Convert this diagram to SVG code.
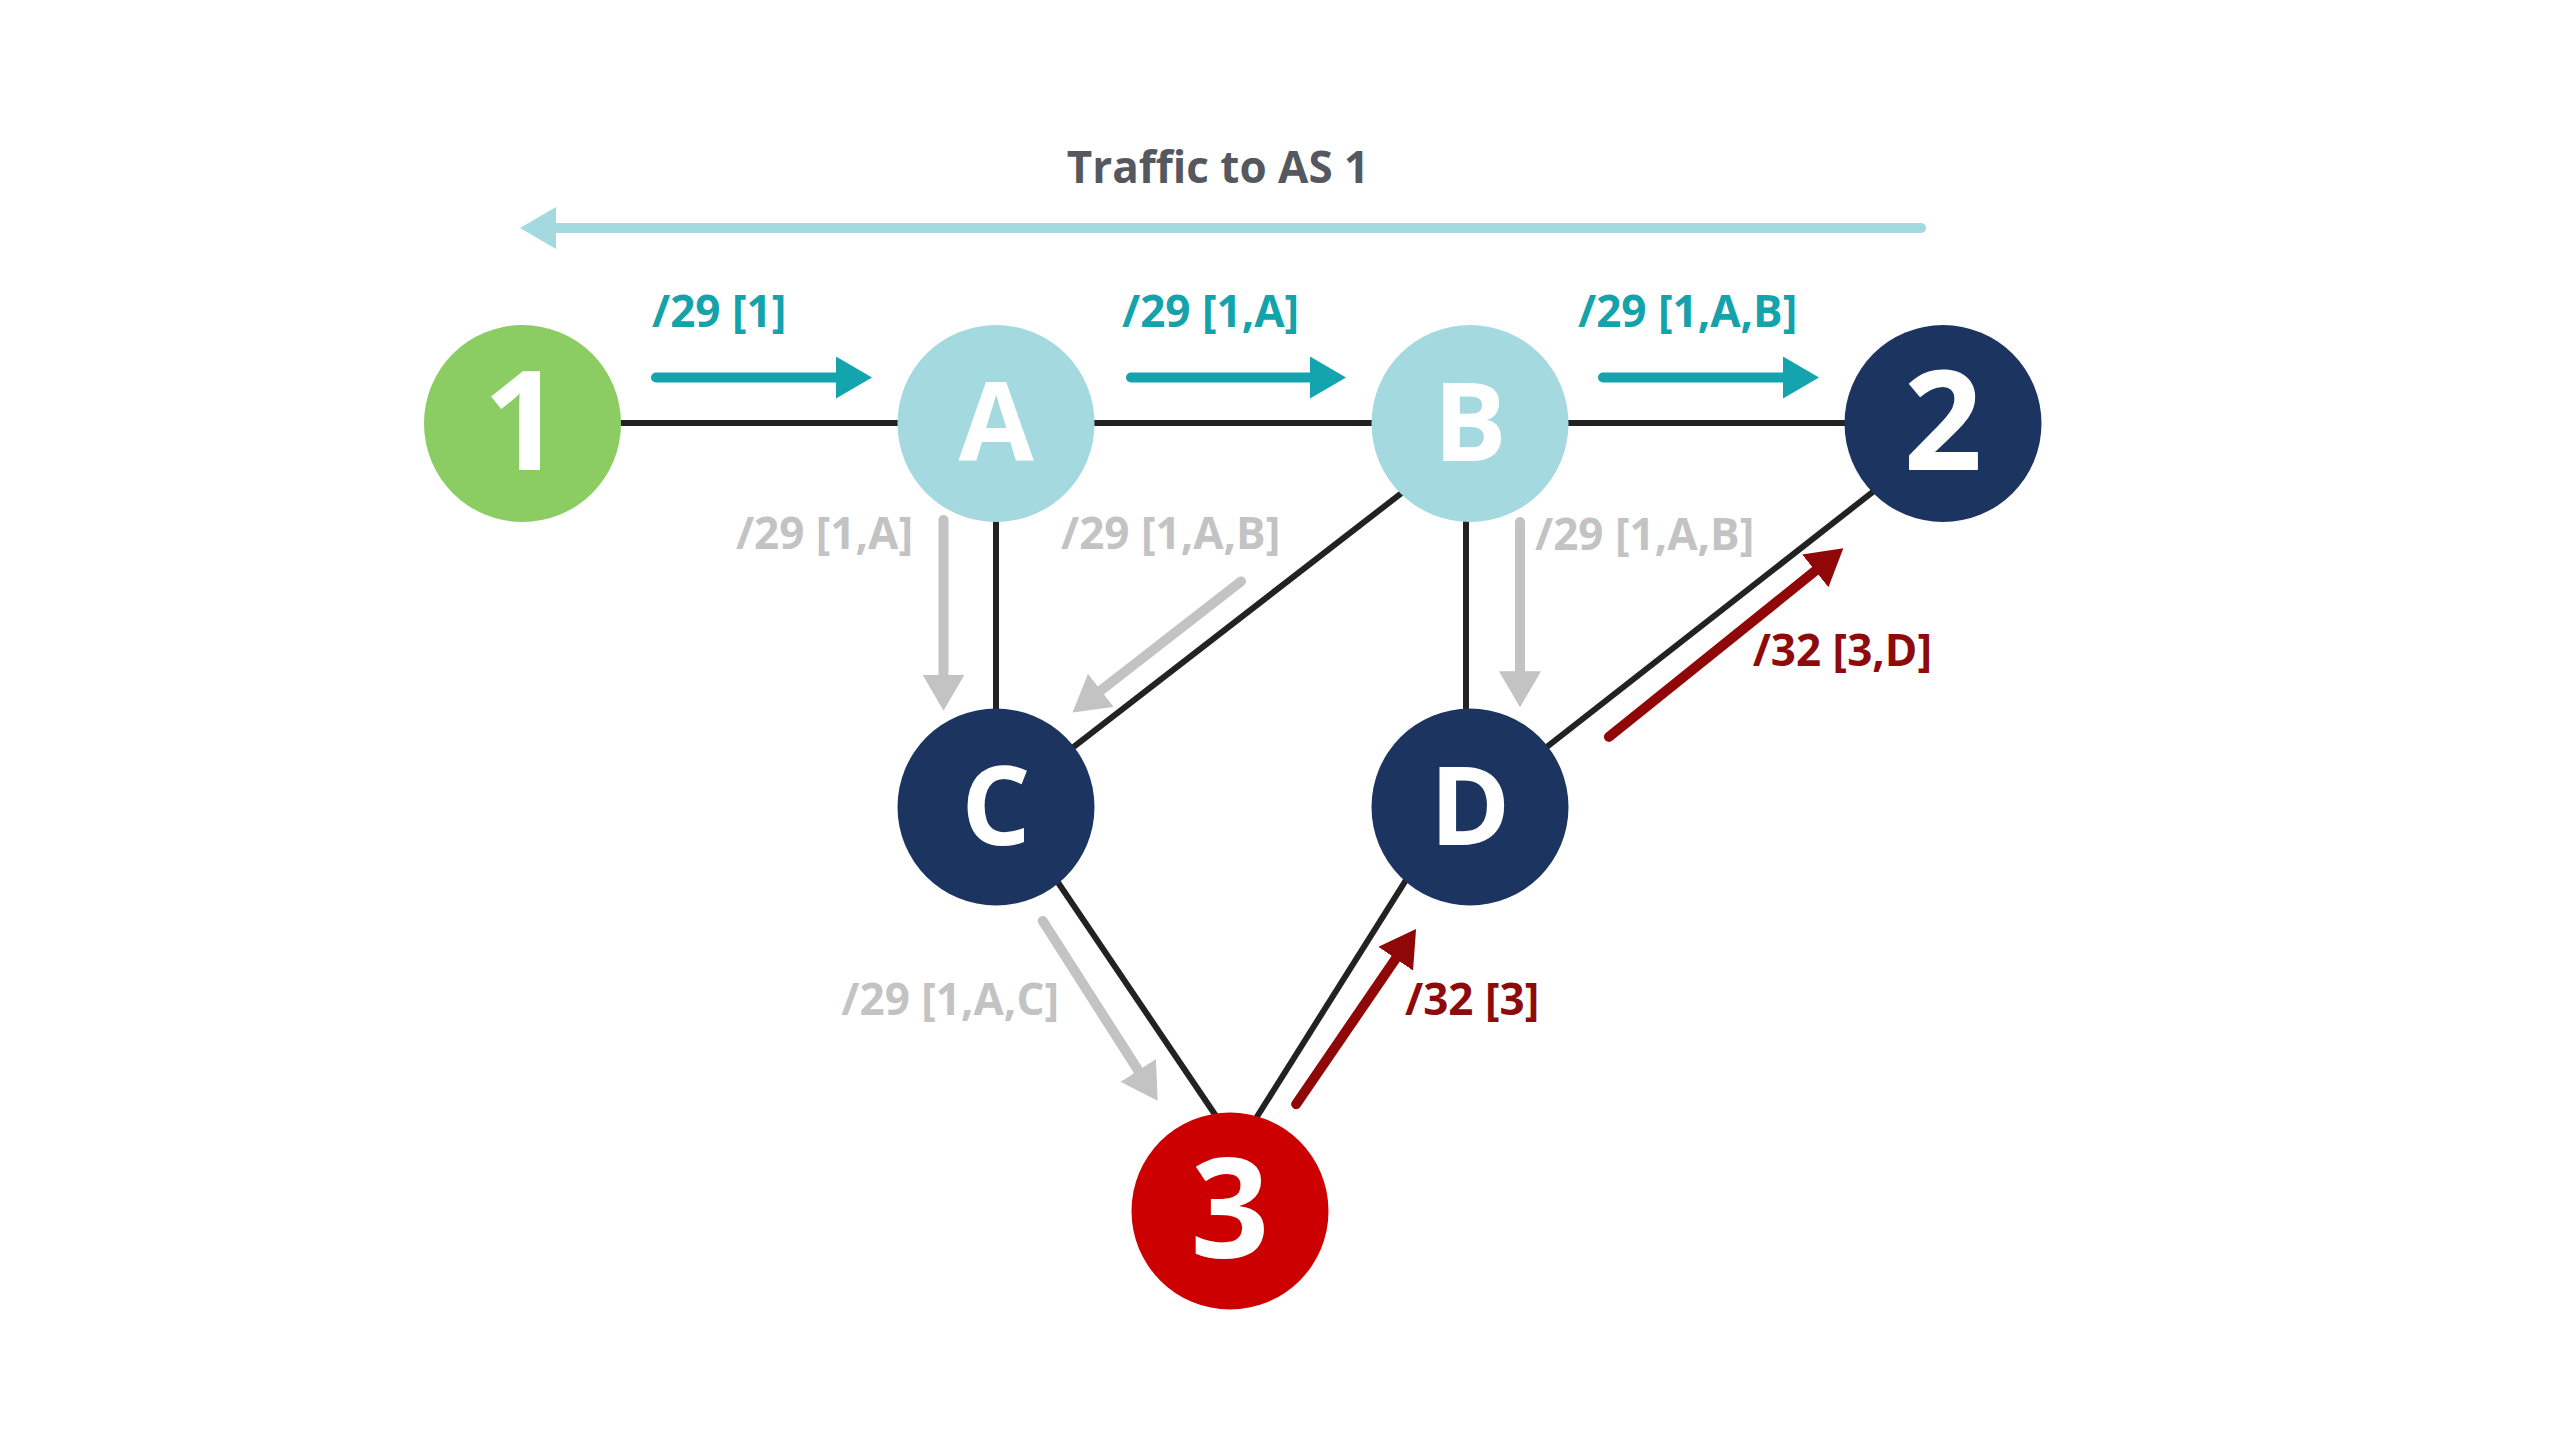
<svg xmlns="http://www.w3.org/2000/svg" width="2554" height="1430" viewBox="0 0 2554 1430">
  <style>
    .edge { stroke: #222222; stroke-width: 6; fill: none; }
    .arr { stroke-width: 10; stroke-linecap: round; fill: none; }
    .teal { stroke: #13a4ad; }
    .gray { stroke: #c3c3c3; }
    .red { stroke: #900707; }
    .light { stroke: #a3d9df; }
    .lbl { font-family: "Open Sans", "Noto Sans", "Liberation Sans", sans-serif; font-weight: 700; font-size: 44px; }
    .tl { fill: #14a2ab; }
    .gl { fill: #c3c3c3; }
    .rl { fill: #8e0b0b; }
    .title { fill: #55595f; }
    .nl { font-family: "Open Sans", "Noto Sans", "Liberation Sans", sans-serif; font-weight: 700; fill: #ffffff; text-anchor: middle; }
    .let { font-size: 109px; }
    .dig { font-size: 138px; }
  </style>
  <defs>
    <marker id="hTeal" markerUnits="userSpaceOnUse" viewBox="0 0 36 42" markerWidth="36" markerHeight="42" refX="9" refY="21" orient="auto">
      <path d="M0,0 L36,21 L0,42 Z" fill="#13a4ad"/>
    </marker>
    <marker id="hGray" markerUnits="userSpaceOnUse" viewBox="0 0 36 42" markerWidth="36" markerHeight="42" refX="9" refY="21" orient="auto">
      <path d="M0,0 L36,21 L0,42 Z" fill="#c3c3c3"/>
    </marker>
    <marker id="hRed" markerUnits="userSpaceOnUse" viewBox="0 0 36 42" markerWidth="36" markerHeight="42" refX="9" refY="21" orient="auto">
      <path d="M0,0 L36,21 L0,42 Z" fill="#900707"/>
    </marker>
    <marker id="hLight" markerUnits="userSpaceOnUse" viewBox="0 0 36 42" markerWidth="36" markerHeight="42" refX="9" refY="21" orient="auto">
      <path d="M0,0 L36,21 L0,42 Z" fill="#a3d9df"/>
    </marker>
  </defs>
  <rect width="2554" height="1430" fill="#ffffff"/>

  <g id="title">
    <text class="lbl title" x="1218" y="183" text-anchor="middle">Traffic to AS 1</text>
  </g>

  <g id="connectors">
    <line class="edge" x1="522" y1="423" x2="996" y2="423"/>
    <line class="edge" x1="996" y1="423" x2="1470" y2="423"/>
    <line class="edge" x1="1470" y1="423" x2="1943" y2="423"/>
    <line class="edge" x1="996" y1="424" x2="996" y2="807"/>
    <line class="edge" x1="1466" y1="424" x2="1466" y2="807"/>
    <line class="edge" x1="996" y1="807" x2="1483" y2="430"/>
    <line class="edge" x1="1470" y1="807" x2="1943" y2="437"/>
    <line class="edge" x1="1007" y1="807" x2="1239" y2="1150"/>
    <line class="edge" x1="1452" y1="807" x2="1236" y2="1150"/>

    <line class="arr light" x1="1921" y1="228" x2="547" y2="228" marker-end="url(#hLight)"/>

    <line class="arr teal" x1="656" y1="377.5" x2="845" y2="377.5" marker-end="url(#hTeal)"/>
    <line class="arr teal" x1="1131" y1="377.5" x2="1319" y2="377.5" marker-end="url(#hTeal)"/>
    <line class="arr teal" x1="1603" y1="377.5" x2="1792" y2="377.5" marker-end="url(#hTeal)"/>

    <line class="arr gray" x1="943.5" y1="520" x2="943.5" y2="683.7" marker-end="url(#hGray)"/>
    <line class="arr gray" x1="1520" y1="522" x2="1520" y2="680.3" marker-end="url(#hGray)"/>
    <line class="arr gray" x1="1241" y1="581.4" x2="1093.8" y2="695.9" marker-end="url(#hGray)"/>
    <line class="arr gray" x1="1042.7" y1="920.9" x2="1143.1" y2="1078" marker-end="url(#hGray)"/>

    <line class="arr red" x1="1296.1" y1="1104.2" x2="1400.8" y2="951.3" marker-end="url(#hRed)"/>
    <line class="arr red" x1="1608.9" y1="736.9" x2="1822.3" y2="565.2" marker-end="url(#hRed)"/>
  </g>

  <g id="labels">
    <text class="lbl tl" x="652" y="327">/29 [1]</text>
    <text class="lbl tl" x="1122" y="327">/29 [1,A]</text>
    <text class="lbl tl" x="1578" y="327">/29 [1,A,B]</text>
    <text class="lbl gl" x="913" y="549" text-anchor="end">/29 [1,A]</text>
    <text class="lbl gl" x="1061" y="549">/29 [1,A,B]</text>
    <text class="lbl gl" x="1535" y="550">/29 [1,A,B]</text>
    <text class="lbl gl" x="1059" y="1015" text-anchor="end">/29 [1,A,C]</text>
    <text class="lbl rl" x="1405" y="1015">/32 [3]</text>
    <text class="lbl rl" x="1932" y="666" text-anchor="end">/32 [3,D]</text>
  </g>

  <g id="node-1">
    <circle cx="522.5" cy="423.5" r="98.5" fill="#8bcc63"/>
    <text class="nl dig" x="522.5" y="470">1</text>
  </g>
  <g id="node-A">
    <circle cx="996" cy="423.5" r="98.5" fill="#a3d9df"/>
    <text class="nl let" x="996" y="461">A</text>
  </g>
  <g id="node-B">
    <circle cx="1470" cy="423.5" r="98.5" fill="#a3d9df"/>
    <text class="nl let" x="1470" y="461">B</text>
  </g>
  <g id="node-2">
    <circle cx="1943" cy="423.5" r="98.5" fill="#1c3560"/>
    <text class="nl dig" x="1943" y="470">2</text>
  </g>
  <g id="node-C">
    <circle cx="996" cy="807" r="98.5" fill="#1c3560"/>
    <text class="nl let" x="996" y="845">C</text>
  </g>
  <g id="node-D">
    <circle cx="1470" cy="807" r="98.5" fill="#1c3560"/>
    <text class="nl let" x="1470" y="845">D</text>
  </g>
  <g id="node-3">
    <circle cx="1230" cy="1211" r="98.5" fill="#cc0000"/>
    <text class="nl dig" x="1230" y="1258">3</text>
  </g>
</svg>
